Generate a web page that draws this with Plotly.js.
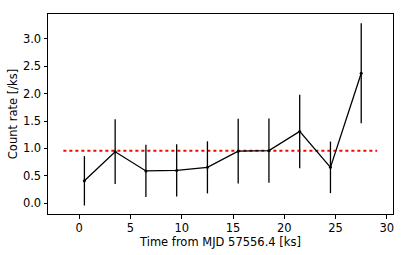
<!DOCTYPE html>
<html>
<head>
<meta charset="utf-8">
<script src="https://cdn.plot.ly/plotly-3.0.1.min.js"></script>
<style>
  html, body { margin: 0; padding: 0; background: #fff; }
  #chart { width: 407px; height: 255px; }
</style>
</head>
<body>
<div id="chart"></div>
<script>
// Light curve: time bins (ks), count rate and 1-sigma errors
const timeKs = [0.5, 3.5, 6.5, 9.5, 12.5, 15.5, 18.5, 21.5, 24.5, 27.5];
const countRate = [0.41, 0.94, 0.59, 0.60, 0.655, 0.95, 0.96, 1.31, 0.655, 2.37];
const rateErr = [0.45, 0.59, 0.475, 0.475, 0.475, 0.59, 0.585, 0.67, 0.47, 0.91];

// Mean rate level (dotted red line)
const meanX = [-1.55, 29.05];
const meanRate = [0.96, 0.96];

const font = { family: 'DejaVu Sans, sans-serif', size: 11.5, color: '#000' };

const traces = [
    {
        x: meanX,
        y: meanRate,
        type: 'scatter',
        mode: 'lines',
        line: { color: '#ff0000', width: 2, dash: 'dot' },
        hoverinfo: 'skip'
    },
    {
        x: timeKs,
        y: countRate,
        type: 'scatter',
        mode: 'lines+markers',
        line: { color: '#000', width: 1.3 },
        marker: { color: '#000', size: 3 },
        error_y: {
            type: 'data',
            array: rateErr,
            visible: true,
            color: '#000',
            thickness: 1.3,
            width: 0
        }
    }
];

const layout = {
    width: 407,
    height: 255,
    margin: { l: 48, r: 14, t: 14, b: 41 },
    showlegend: false,
    plot_bgcolor: '#fff',
    paper_bgcolor: '#fff',
    font: font,
    xaxis: {
        range: [-3.05, 30.6],
        tickvals: [0, 5, 10, 15, 20, 25, 30],
        ticks: 'outside',
        ticklen: 3.5,
        tickcolor: '#000',
        showgrid: false,
        zeroline: false,
        showline: true,
        linecolor: '#000',
        linewidth: 1,
        mirror: true,
        title: { text: 'Time from MJD 57556.4 [ks]', font: font, standoff: 0 }
    },
    yaxis: {
        range: [-0.195, 3.45],
        tickvals: [0, 0.5, 1, 1.5, 2, 2.5, 3],
        ticktext: ['0.0', '0.5', '1.0', '1.5', '2.0', '2.5', '3.0'],
        ticks: 'outside',
        ticklen: 3.5,
        tickcolor: '#000',
        showgrid: false,
        zeroline: false,
        showline: true,
        linecolor: '#000',
        linewidth: 1,
        mirror: true,
        title: { text: 'Count rate [/ks]', font: font, standoff: 2 }
    }
};

Plotly.newPlot('chart', traces, layout, { displayModeBar: false, staticPlot: true });
</script>
</body>
</html>
